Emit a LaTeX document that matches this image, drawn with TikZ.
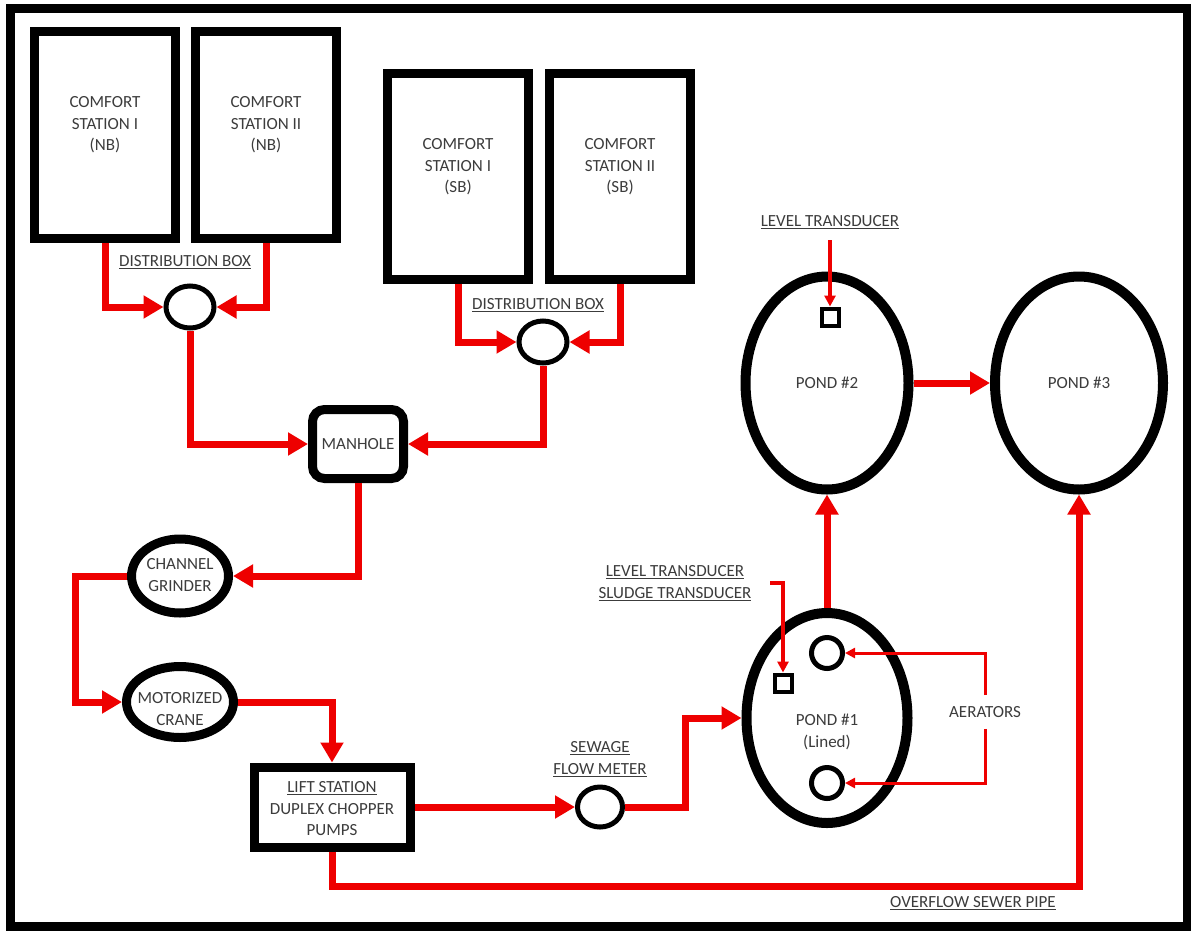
\documentclass[tikz,border=0pt]{standalone}
\usepackage{fontspec}
\setmainfont{Carlito}
\usetikzlibrary{shapes.geometric,arrows.meta}
\definecolor{pipered}{RGB}{238,0,0}
\definecolor{txt}{RGB}{60,60,60}
\begin{document}
\begin{tikzpicture}[x=1pt,y=-1pt,
  every node/.style={font=\fontsize{17}{21.5}\selectfont, text=txt, align=center, inner sep=0pt},
  station/.style={draw=black, line width=9pt, minimum width=141pt, minimum height=207pt},
  dbox/.style={draw=black, ellipse, line width=5pt, minimum width=48pt, minimum height=42pt},
  oval/.style={draw=black, ellipse, line width=9pt},
  pond/.style={draw=black, ellipse, line width=10pt},
  sensor/.style={draw=black, line width=4pt, minimum size=17pt},
  aerator/.style={draw=black, circle, line width=5pt, minimum size=31pt},
  pipe/.style={draw=pipered, line width=7pt, -{Triangle[length=20pt,width=22pt]}},
  thinarrow/.style={draw=pipered, line width=3.5pt, -{Triangle[length=11pt,width=11pt]}}
]
\useasboundingbox (0,0) rectangle (1191,930);
\fill[white] (0,0) rectangle (1191,930);
\draw[line width=9pt] (10,8) rectangle (1187,926);

% comfort stations
\node[station] (cs1) at (105,135) {};
\node[station] (cs2) at (266,135) {};
\node[station, minimum height=206pt] (cs3) at (458,176.5) {};
\node[station, minimum height=206pt] (cs4) at (620,176.5) {};
\node (cs1t) at (105,125) {COMFORT\\STATION I\\(NB)};
\node (cs2t) at (266,125) {COMFORT\\STATION II\\(NB)};
\node (cs3t) at (458,167) {COMFORT\\STATION I\\(SB)};
\node (cs4t) at (620,167) {COMFORT\\STATION II\\(SB)};

% distribution boxes
\node[dbox] (db1) at (190,307) {};
\node[dbox] (db2) at (543,342) {};
\node (db1t) at (185,262) {\underline{DISTRIBUTION BOX}};
\node (db2t) at (538,305) {\underline{DISTRIBUTION BOX}};

% manhole
\node[draw=black, line width=9pt, rounded corners=12pt, minimum width=91pt, minimum height=69pt] (mh) at (358,444) {MANHOLE};

% channel grinder / crane
\node[oval, minimum width=97pt, minimum height=74pt] (cg) at (180,576) {};
\node (cgt) at (180,575) {CHANNEL\\GRINDER};
\node[oval, minimum width=107pt, minimum height=71pt] (mc) at (180,702) {};
\node (mct) at (180,709) {MOTORIZED\\CRANE};

% lift station
\node[draw=black, line width=9pt, minimum width=156pt, minimum height=80pt] (ls) at (332,807) {};
\node (lst) at (332,809) {\underline{LIFT STATION}\\DUPLEX CHOPPER\\PUMPS};

% flow meter
\node[dbox, minimum width=45pt, minimum height=40pt] (fm) at (600,807) {};
\node (fmt) at (600,759) {\underline{SEWAGE}\\\underline{FLOW METER}};

% ponds
\node[pond, minimum width=161pt, minimum height=210pt] (p1) at (827,718) {};
\node (p1t) at (827,732) {POND \#1\\(Lined)};
\node[pond, minimum width=163pt, minimum height=213pt] (p2) at (827,383) {POND \#2};
\node[pond, minimum width=168pt, minimum height=213pt] (p3) at (1079,383) {POND \#3};

% sensors
\node[sensor] (sq2) at (830,317) {};
\node[sensor] (sq1) at (783,683) {};
\node (lt2t) at (830,222) {\underline{LEVEL TRANSDUCER}};
\node (lt1t) at (675,583) {\underline{LEVEL TRANSDUCER}\\\underline{SLUDGE TRANSDUCER}};
\coordinate (lt2) at (830,240);
\coordinate (lt1) at (770,583);
\draw[thinarrow] (lt2) -- (sq2.north);
\draw[thinarrow] (lt1) -| (sq1.north);

% aerators
\node[aerator] (ae1) at (827,653) {};
\node[aerator] (ae2) at (827,783) {};
\node[inner ysep=11pt] (aer) at (985,712) {AERATORS};
\draw[thinarrow, line width=3pt, -{Triangle[length=10pt,width=10pt]}] (aer.north) |- (ae1.east);
\draw[thinarrow, line width=3pt, -{Triangle[length=10pt,width=10pt]}] (aer.south) |- (ae2.east);

% overflow label
\node (ovt) at (973,903) {\underline{OVERFLOW SEWER PIPE}};

% pipes
\draw[pipe] (cs1.south) |- (db1.west);
\draw[pipe] (cs2.south) |- (db1.east);
\draw[pipe] (cs3.south) |- (db2.west);
\draw[pipe] (cs4.south) |- (db2.east);
\draw[pipe] (db1.south) |- (mh.west);
\draw[pipe] (db2.south) |- (mh.east);
\draw[pipe] (mh.south) |- (cg.east);
\coordinate (cgl) at (75,576);
\draw[pipe] (cg.west) -- (cgl) |- (mc.west);
\draw[pipe] (mc.east) -| (ls.north);
\draw[pipe] (ls.east) -- (fm.west);
\coordinate (fmr) at (685,807);
\draw[pipe] (fm.east) -- (fmr) |- (p1.west);
\draw[pipe] (p1.north) -- (p2.south);
\draw[pipe] (p2.east) -- (p3.west);
\coordinate (ov) at (332,886);
\draw[pipe] (ls.south) -- (ov) -| (p3.south);
\end{tikzpicture}
\end{document}
